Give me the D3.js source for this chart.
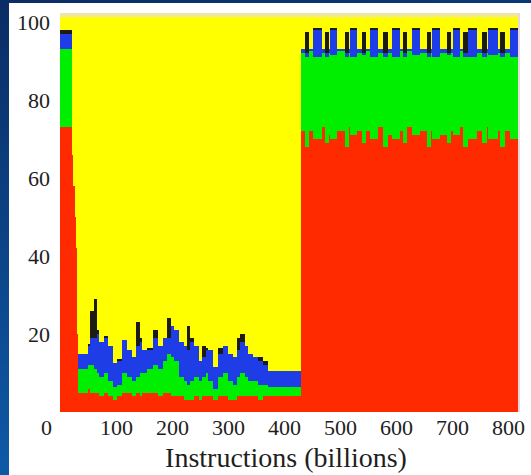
<!DOCTYPE html>
<html><head><meta charset="utf-8">
<script src="https://cdn.jsdelivr.net/npm/d3@7"></script>
<style>html,body{margin:0;padding:0;background:#0c4a92;overflow:hidden}svg{display:block}</style>
</head><body>
<svg id="c" width="531" height="475"></svg>
<script>
// x samples: instructions (billions)
const instructions = [
  0, 22, 24, 26, 28, 30, 31,
  32, 41, 50, 54, 60, 66, 70, 79, 86, 95, 102, 111, 120, 129, 136, 142, 146, 155, 166, 175,
  184, 191, 199, 204, 212, 221, 227, 233, 239, 248, 254, 260, 264, 273, 282, 291, 300, 309,
  316, 322, 330, 336, 345, 354, 363, 371,
  431,
  437, 445, 452, 468,
  473, 481, 482, 495,
  509, 517, 518, 530,
  539, 547, 554, 568,
  577, 585, 593, 607,
  612, 620, 629, 643,
  655, 663, 664, 679,
  691, 699, 702, 714,
  720, 728, 729, 745,
  754, 762, 764, 782,
  786, 794, 804, 818
];
// cumulative tops (%) of each stacked band
const redTop = [
  73, 66, 58, 50, 42, 34, 20,
  5, 5, 6, 5, 5, 5, 4, 5, 4, 3, 4, 5, 5, 4, 5, 4, 5, 5, 5, 4,
  5, 5, 4, 4, 4, 3, 3, 3, 4, 3, 4, 4, 4, 3, 4, 4, 3, 3,
  4, 4, 4, 4, 4, 3, 4, 4,
  72,
  68, 72, 70, 73,
  69, 71, 70, 72,
  68, 73, 71, 72,
  69, 72, 70, 73,
  68, 71, 70, 72,
  69, 73, 71, 72,
  68, 72, 70, 71,
  69, 72, 71, 73,
  68, 71, 70, 72,
  69, 73, 70, 72,
  68, 72, 70, 70
];
const greenTop = [
  93, 66, 58, 50, 42, 34, 20,
  11, 11, 12, 12, 11, 10, 9, 10, 8, 6.5, 7, 10, 9, 8, 9, 10, 10, 11, 12, 11,
  13, 15, 14, 13, 9, 8, 7, 8, 9, 8, 9, 10, 8, 6, 9, 10, 8, 7,
  9, 10, 9, 8, 8, 7, 7, 6.5,
  92,
  91, 92.5, 91, 92,
  91, 92, 91.5, 92.5,
  91, 92, 91, 92,
  91.5, 92.5, 91, 92,
  91, 92, 91, 92.5,
  91, 92.5, 91.5, 92,
  91, 92, 91, 92,
  91.5, 92, 91, 92.5,
  91, 92.5, 91, 92,
  91, 92, 91.5, 92,
  91, 92, 91, 91
];
const blueTop = [
  97, 66, 58, 50, 42, 34, 20,
  15, 15, 17, 19, 19, 20, 18, 19, 17, 12.5, 13, 18.5, 16, 14, 17, 18, 16, 16, 19, 17,
  19, 19, 22, 21, 18, 17, 16, 18, 17, 13, 14, 16, 16, 11.5, 15, 17, 15, 14,
  16, 18, 17, 15, 14, 13, 12, 10.5,
  93,
  92, 93, 98, 93,
  92, 93, 98, 93,
  92, 93, 98, 93,
  92, 93, 98, 93,
  92, 93, 98, 93,
  92, 93, 98, 93,
  92, 93, 98, 93,
  92, 93, 98, 93,
  92, 93, 98, 93,
  92, 93, 98, 93,
  92, 93, 98, 98
];
const darkTop = [
  98, 66, 58, 50, 42, 34, 20,
  15, 15, 17.5, 26, 29, 21, 18, 19.5, 17, 12.5, 13.5, 18.5, 16, 14, 23, 19, 16, 16.5, 21, 17,
  19, 24, 22, 21, 18, 17, 22, 19, 17, 13, 17, 16.5, 16, 11.5, 16.5, 17, 15, 14,
  19, 20, 17, 15, 14, 14, 13, 10.5,
  93,
  97.5, 93, 98.5, 93,
  97.5, 93, 98.5, 93,
  97.5, 93, 98.5, 93,
  97.5, 93, 98.5, 93,
  97.5, 93, 98.5, 93,
  97.5, 93, 98.5, 93,
  97.5, 93, 98.5, 93,
  97.5, 93, 98.5, 93,
  97.5, 93, 98.5, 93,
  97.5, 93, 98.5, 93,
  97.5, 93, 98.5, 98.5
];
const xTicks = [0, 100, 200, 300, 400, 500, 600, 700, 800];
const yTicks = [20, 40, 60, 80, 100];
const xTitle = "Instructions (billions)";

const svg = d3.select("#c");
const defs = svg.append("defs");
const g1 = defs.append("linearGradient").attr("id", "bg").attr("x1", 0).attr("y1", 0).attr("x2", 0.25).attr("y2", 1);
g1.append("stop").attr("offset", 0).attr("stop-color", "#0a2d64");
g1.append("stop").attr("offset", 1).attr("stop-color", "#0e5cab");
svg.append("rect").attr("width", 531).attr("height", 475).attr("fill", "url(#bg)");
svg.append("rect").attr("x", 9).attr("y", 3).attr("width", 522).attr("height", 472).attr("fill", "#ffffff");

const x = d3.scaleLinear().domain([0, 818]).range([60, 518]);
const y = d3.scaleLinear().domain([0, 100]).range([412, 22]);

// plot panel (yellow remainder above 100 too)
svg.append("rect").attr("x", x(0)).attr("y", y(102.3)).attr("width", x(818) - x(0)).attr("height", y(0) - y(102.3)).attr("fill", "#ffff00");

const layers = [
  { lo: null, hi: redTop, color: "#ff2a00" },
  { lo: redTop, hi: greenTop, color: "#00ee00" },
  { lo: greenTop, hi: blueTop, color: "#1f3de6" },
  { lo: blueTop, hi: darkTop, color: "#1c1c14" },
  { lo: darkTop, hi: null, color: "#ffff00" }
];
const idx = d3.range(instructions.length);
layers.forEach(L => {
  const area = d3.area()
    .curve(d3.curveStepAfter)
    .x(i => x(instructions[i]))
    .y0(i => y(L.lo ? L.lo[i] : 0))
    .y1(i => y(L.hi ? L.hi[i] : 100));
  svg.append("path").datum(idx).attr("d", area).attr("fill", L.color).attr("shape-rendering", "crispEdges");
});

// top frame strip and right border
svg.append("rect").attr("x", 60).attr("y", 13).attr("width", 458).attr("height", 4).attr("fill", "#ece8a4");
svg.append("line").attr("x1", 519).attr("x2", 519).attr("y1", 13).attr("y2", 412).attr("stroke", "#e6d8dc").attr("stroke-width", 2);

const font = '"Liberation Serif", "Times New Roman", serif';
const gx = svg.append("g").attr("transform", "translate(0,412)")
  .call(d3.axisBottom(x).tickValues(xTicks).tickSize(0).tickPadding(7));
gx.select(".domain").remove();
gx.attr("font-family", font).attr("font-size", 22);
gx.selectAll("text").attr("fill", "#1e1e1e");
gx.selectAll(".tick").filter(d => d === 0).select("text").attr("dx", -14);

const gy = svg.append("g").attr("transform", "translate(60,0)")
  .call(d3.axisLeft(y).tickValues(yTicks).tickSize(0).tickPadding(10));
gy.select(".domain").remove();
gy.attr("font-family", font).attr("font-size", 22);
gy.selectAll("text").attr("fill", "#1e1e1e");

svg.append("text").attr("x", 286).attr("y", 467).attr("text-anchor", "middle")
  .attr("font-family", font).attr("font-size", 28).attr("fill", "#1e1e1e").text(xTitle);
</script>
</body></html>
